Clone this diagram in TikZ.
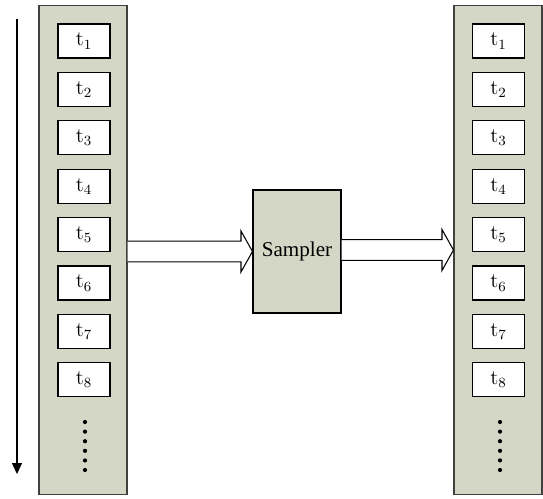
\documentclass[tikz,border=0pt]{standalone}
\usepackage[no-math]{fontspec}
\setmainfont{Liberation Serif}
\usetikzlibrary{calc,arrows.meta}
\definecolor{panel}{RGB}{212,215,198}
\tikzset{
  column/.style={draw=black!75, fill=panel, line width=.6pt, minimum width=1.76cm, minimum height=9.8cm, inner sep=0pt},
  slot/.style={draw=black, fill=white, line width=.6pt, minimum width=1.04cm, minimum height=.68cm, inner sep=0pt, font=\large},
  sampler/.style={draw=black, fill=panel, line width=.6pt, minimum width=1.76cm, minimum height=2.46cm, inner sep=0pt, font=\large},
  flow/.style={draw=black, line width=.6pt, fill=white},
}
% hollow block arrow from the east side of #1 to the west side of #2
\newcommand\blockarrow[2]{
  \draw[flow] let \p1=(#1.east), \p2=(#2.west) in
    (\x1,\y2+.206cm) -- (\x2-.23cm,\y2+.206cm) -- (\x2-.23cm,\y2+.41cm) -- (\x2,\y2)
    -- (\x2-.23cm,\y2-.41cm) -- (\x2-.23cm,\y2-.206cm) -- (\x1,\y2-.206cm);
}
\begin{document}
\begin{tikzpicture}[x=0.02cm, y=-0.02cm]
\useasboundingbox (0,0) rectangle (543,498);
% time axis
\coordinate (tstart) at (17,19);
\coordinate (tend) at (17,474);
\draw[line width=.6pt, -{Triangle[length=.22cm, width=.2cm]}] (tstart) -- (tend);
% input and output streams
\node[column] (incol) at (83,250) {};
\node[column] (outcol) at (498,250) {};
\foreach \i in {1,...,8}{
  \node[slot] (in\i) at (84,{41+48.4*(\i-1)}) {$\mathrm{t}_{\i}$};
  \node[slot] (out\i) at (498.5,{41+48.4*(\i-1)}) {$\mathrm{t}_{\i}$};
}
\foreach \k in {0,...,5}{
  \fill (85,{422+9.6*\k}) circle (2.1);
  \fill (500,{422+9.6*\k}) circle (2.1);
}
% sampler block
\node[sampler] (samp) at (297,251.5) {Sampler};
\blockarrow{incol}{samp}
\blockarrow{samp}{outcol}
\end{tikzpicture}
\end{document}
